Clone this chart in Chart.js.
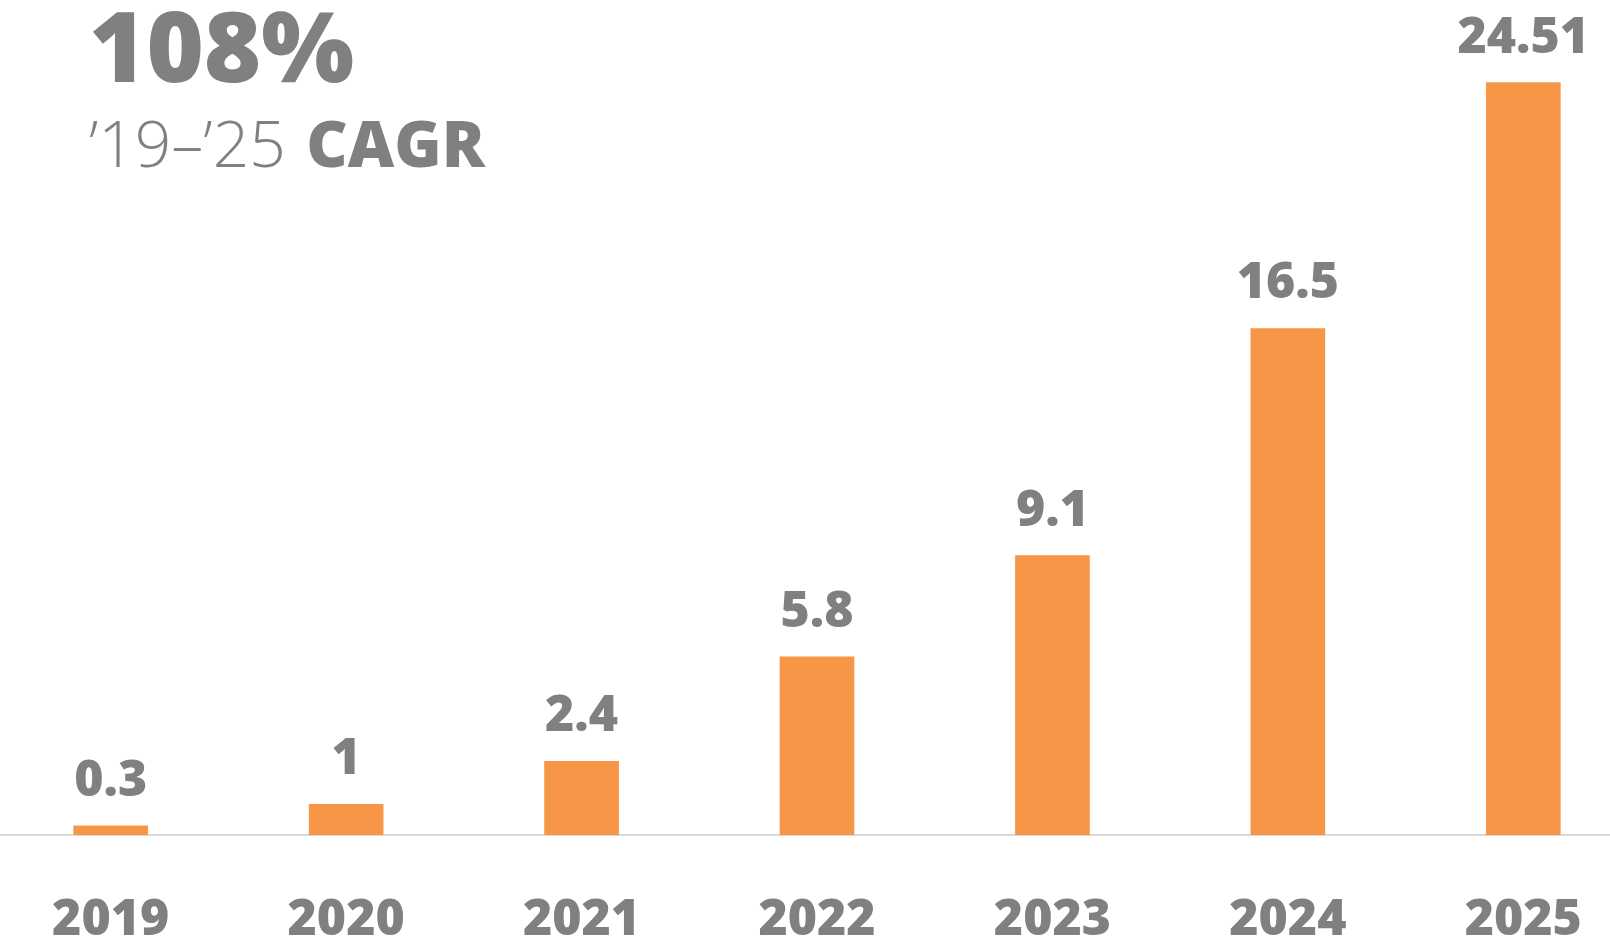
<!DOCTYPE html>
<html>
<head>
<meta charset="utf-8">
<script src="https://cdn.jsdelivr.net/npm/chart.js@4"></script>
<style>
  html, body { margin: 0; padding: 0; background: #fff; overflow: hidden; }
  /* chart is a bit wider than the window so the outer bars sit where the reference has them */
  .chart-box { position: absolute; left: -7px; top: 0; width: 1648px; height: 948px; }
</style>
</head>
<body>
<div class="chart-box"><canvas id="cagr-chart"></canvas></div>
<script>
const years = ['2019', '2020', '2021', '2022', '2023', '2024', '2025'];
const values = [0.3, 1, 2.4, 5.8, 9.1, 16.5, 24.51];
const valueLabels = ['0.3', '1', '2.4', '5.8', '9.1', '16.5', '24.51'];
const headline = '108%';
const subPeriod = '’19–’25 ';
const subLabel = 'CAGR';

const grey = '#808080';
const orange = '#F79646';
const fontFamily = '"Open Sans", "DejaVu Sans", sans-serif';

// value labels above bars + headline text top left
const labelPlugin = {
    id: 'labelPlugin',
    afterDatasetsDraw(chart) {
        const ctx = chart.ctx;
        const meta = chart.getDatasetMeta(0);
        ctx.save();
        ctx.fillStyle = grey;
        ctx.textAlign = 'center';
        ctx.textBaseline = 'alphabetic';
        ctx.font = '800 50px ' + fontFamily;
        meta.data.forEach((bar, i) => {
            ctx.fillText(valueLabels[i], bar.x, bar.y - 30);
        });

        // headline
        ctx.textAlign = 'left';
        ctx.font = '800 98px ' + fontFamily;
        ctx.fillText(headline, 96, 82);
        ctx.font = '300 64px ' + fontFamily;
        ctx.fillText(subPeriod, 96, 167);
        const w = ctx.measureText(subPeriod).width;
        ctx.font = '800 64px ' + fontFamily;
        ctx.fillText(subLabel, 96 + w + 4, 167);
        ctx.restore();
    }
};

const ctx = document.getElementById('cagr-chart').getContext('2d');
const cagrChart = new Chart(ctx, {
    type: 'bar',
    data: {
        labels: years,
        datasets: [{
            data: values,
            backgroundColor: orange,
            borderWidth: 0,
            barThickness: 74
        }]
    },
    options: {
        responsive: true,
        maintainAspectRatio: false,
        animation: false,
        layout: { padding: 0 },
        plugins: {
            legend: { display: false },
            tooltip: { enabled: false }
        },
        scales: {
            x: {
                grid: { display: false },
                border: { display: true, color: '#d9d9d9', width: 2 },
                ticks: {
                    color: grey,
                    padding: 48,
                    font: { family: fontFamily, size: 50, weight: 800 }
                },
                afterFit(scale) { scale.height = 113; }
            },
            y: {
                display: false,
                min: 0,
                max: 27.2
            }
        }
    },
    plugins: [labelPlugin]
});
</script>
</body>
</html>
